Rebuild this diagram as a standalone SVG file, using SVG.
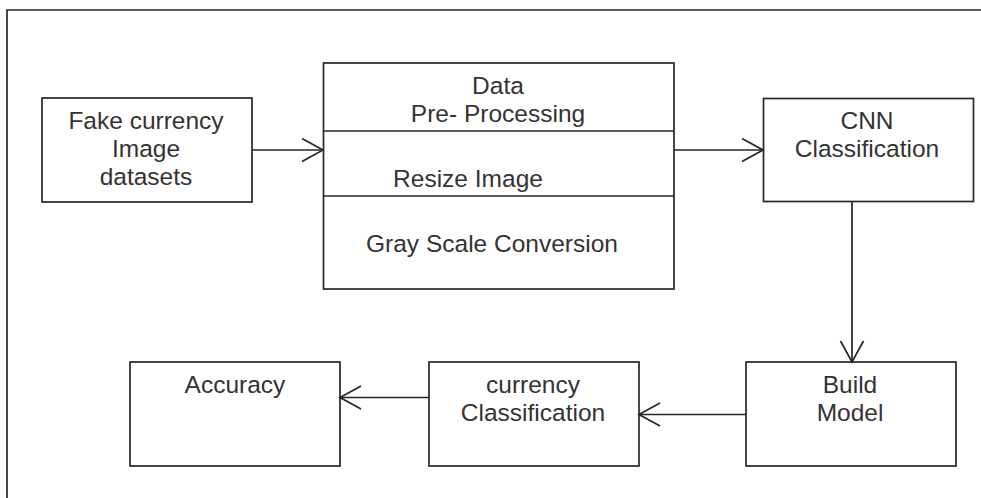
<svg xmlns="http://www.w3.org/2000/svg" width="981" height="498" viewBox="0 0 981 498">
<style>
.box{fill:#fff;stroke:#262626;stroke-width:1.7}
.ln{fill:none;stroke:#262626;stroke-width:1.7}
text{font-family:"Liberation Sans",Arial,sans-serif;font-size:24.5px;fill:#333;text-anchor:middle}
</style>
<defs>
<marker id="arr" viewBox="0 0 24 26" refX="22" refY="13" markerWidth="24" markerHeight="26" markerUnits="userSpaceOnUse" orient="auto">
<path d="M1,1.5 L22,13 L1,24.5" fill="none" stroke="#262626" stroke-width="1.7"/>
</marker>
</defs>
<rect width="981" height="498" fill="#fff"/>
<path class="ln" d="M7,498 L7,10 L981,10"/>
<g id="fake">
<rect class="box" x="42" y="98" width="210" height="104"/>
<text x="146" y="128.5">Fake currency</text>
<text x="146" y="156.5">Image</text>
<text x="146" y="184.5">datasets</text>
</g>
<g id="preprocessing">
<rect class="box" x="323.5" y="63" width="350.5" height="226"/>
<line class="ln" x1="323.5" y1="131" x2="674" y2="131"/>
<line class="ln" x1="323.5" y1="196" x2="674" y2="196"/>
<text x="498" y="93.5">Data</text>
<text x="498" y="121.5">Pre- Processing</text>
<text x="468" y="186.5">Resize Image</text>
<text x="492" y="251.5">Gray Scale Conversion</text>
</g>
<g id="cnn">
<rect class="box" x="763.5" y="98.5" width="210" height="103"/>
<text x="867" y="128.5">CNN</text>
<text x="867" y="156.5">Classification</text>
</g>
<g id="build">
<rect class="box" x="746" y="362" width="210" height="104"/>
<text x="850" y="392.5">Build</text>
<text x="850" y="420.5">Model</text>
</g>
<g id="currency">
<rect class="box" x="429" y="362" width="210" height="104"/>
<text x="533" y="392.5">currency</text>
<text x="533" y="420.5">Classification</text>
</g>
<g id="accuracy">
<rect class="box" x="130" y="362" width="210" height="104"/>
<text x="235" y="392.5">Accuracy</text>
</g>
<g id="connectors">
<line class="ln" x1="252" y1="150" x2="323" y2="150" marker-end="url(#arr)"/>
<line class="ln" x1="674" y1="150" x2="763" y2="150" marker-end="url(#arr)"/>
<line class="ln" x1="852" y1="201.5" x2="852" y2="362" marker-end="url(#arr)"/>
<line class="ln" x1="746" y1="414.5" x2="639" y2="414.5" marker-end="url(#arr)"/>
<line class="ln" x1="429" y1="397.5" x2="340" y2="397.5" marker-end="url(#arr)"/>
</g>
</svg>
